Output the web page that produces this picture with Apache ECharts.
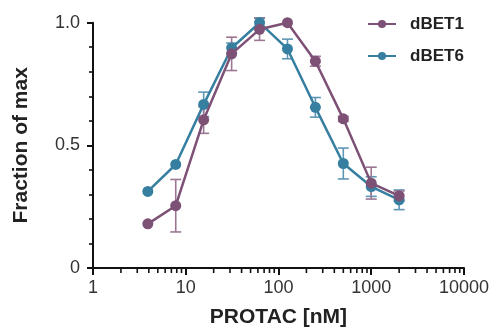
<!DOCTYPE html>
<html><head><meta charset="utf-8">
<script src="https://cdn.jsdelivr.net/npm/echarts@6/dist/echarts.min.js"></script>
<style>html,body{margin:0;padding:0;background:#fff}#c{width:492px;height:333px}</style>
</head><body><div id="c"></div>
<script>
// Data
var conc = [3.9, 7.8, 15.6, 31.25, 62.5, 125, 250, 500, 1000, 2000];
var dBET1 = [0.18, 0.254, 0.604, 0.873, 0.973, 1.0, 0.843, 0.608, 0.346, 0.294];
var dBET1err = [0.0, 0.107, 0.055, 0.068, 0.045, 0.0, 0.02, 0.01, 0.065, 0.02];
var dBET6 = [0.312, 0.422, 0.667, 0.897, 1.0, 0.893, 0.655, 0.426, 0.332, 0.278];
var dBET6err = [0.0, 0.0, 0.05, 0.02, 0.02, 0.04, 0.04, 0.063, 0.04, 0.04];
var xTicks = [1, 10, 100, 1000, 10000];
var xMinorTicks = [2,3,4,5,6,7,8,9, 20,30,40,50,60,70,80,90, 200,300,400,500,600,700,800,900, 2000,3000,4000,5000,6000,7000,8000,9000];
var yTicks = [0, 0.5, 1.0];

var purple = '#7d5075', blue = '#377fa1';
var purpleErr = '#9b7793', blueErr = '#5e97b5';

function pts(ys){ return conc.map(function(x,i){ return [x, ys[i]]; }); }
function errs(ys, es){ return conc.map(function(x,i){ return [x, ys[i]-es[i], ys[i]+es[i]]; }); }

function errSeries(name, data, color){
  return {
    type: 'custom', name: name + 'err', z: 1,
    data: data, silent: true, clip: false,
    renderItem: function(params, api){
      var x = api.value(0), lo = api.value(1), hi = api.value(2);
      if (hi - lo < 1e-6) return null;
      var pLo = api.coord([x, lo]), pHi = api.coord([x, hi]);
      var w = 5.5;
      var st = {stroke: color, lineWidth: 1.6, fill: null};
      return {type: 'group', children: [
        {type: 'line', shape: {x1: pLo[0], y1: pLo[1], x2: pHi[0], y2: pHi[1]}, style: st},
        {type: 'line', shape: {x1: pLo[0]-w, y1: pLo[1], x2: pLo[0]+w, y2: pLo[1]}, style: st},
        {type: 'line', shape: {x1: pHi[0]-w, y1: pHi[1], x2: pHi[0]+w, y2: pHi[1]}, style: st}
      ]};
    }
  };
}

// minor ticks of the log x axis, placed through the axis scale
var minorTickSeries = {
  type: 'custom', name: 'minorTicks', z: 5, silent: true, clip: false,
  data: xMinorTicks.map(function(v){ return [v, 0]; }),
  renderItem: function(params, api){
    var p = api.coord([api.value(0), 0]);
    return {type: 'line', shape: {x1: p[0], y1: p[1], x2: p[0], y2: p[1] + 5},
      style: {stroke: '#111', lineWidth: 1.6}};
  }
};

var chart = echarts.init(document.getElementById('c'), null, {renderer: 'canvas'});
chart.setOption({
  animation: false,
  backgroundColor: '#fff',
  grid: {left: 93, right: 27, top: 22.7, bottom: 62.3, containLabel: false},
  legend: {
    left: 362, top: 9, orient: 'vertical', itemGap: 12, itemWidth: 28, itemHeight: 10,
    data: ['dBET1', 'dBET6'],
    textStyle: {fontFamily: 'Liberation Sans, Arial', fontWeight: 'bold', fontSize: 17, color: '#222',
      lineHeight: 20, padding: [0, 0, 0, 9]}
  },
  xAxis: {
    type: 'log', logBase: 10, min: 1, max: 10000,
    name: 'PROTAC [nM]', nameLocation: 'middle', nameGap: 39,
    nameTextStyle: {fontFamily: 'Liberation Sans, Arial', fontWeight: 'bold', fontSize: 21, color: '#222'},
    axisLine: {lineStyle: {color: '#111', width: 2}},
    axisTick: {show: true, length: 7, lineStyle: {color: '#111', width: 2}},
    axisLabel: {margin: 11, fontFamily: 'Liberation Sans, Arial', fontSize: 18, color: '#333',
      formatter: function(v){ return String(Math.round(v)); }},
    splitLine: {show: false}
  },
  yAxis: {
    type: 'value', min: 0, max: 1, interval: 0.5,
    name: 'Fraction of max', nameLocation: 'middle', nameGap: 61, nameRotate: 90,
    nameTextStyle: {fontFamily: 'Liberation Sans, Arial', fontWeight: 'bold', fontSize: 21, color: '#222'},
    axisLine: {show: true, lineStyle: {color: '#111', width: 2}},
    axisTick: {show: true, length: 6, lineStyle: {color: '#111', width: 2}},
    minorTick: {show: true, splitNumber: 5, length: 4, lineStyle: {color: '#111', width: 1.6}},
    axisLabel: {margin: 13, fontFamily: 'Liberation Sans, Arial', fontSize: 18, color: '#333',
      formatter: function(v){ return v === 0 ? '0' : v.toFixed(1); }},
    splitLine: {show: false}
  },
  series: [
    minorTickSeries,
    errSeries('dBET6', errs(dBET6, dBET6err), blueErr),
    errSeries('dBET1', errs(dBET1, dBET1err), purpleErr),
    {name: 'dBET6', type: 'line', data: pts(dBET6), symbol: 'circle', symbolSize: 11, z: 2,
      lineStyle: {color: blue, width: 2.5}, itemStyle: {color: blue}},
    {name: 'dBET1', type: 'line', data: pts(dBET1), symbol: 'circle', symbolSize: 11, z: 3,
      lineStyle: {color: purple, width: 2.5}, itemStyle: {color: purple}}
  ]
});
</script></body></html>
